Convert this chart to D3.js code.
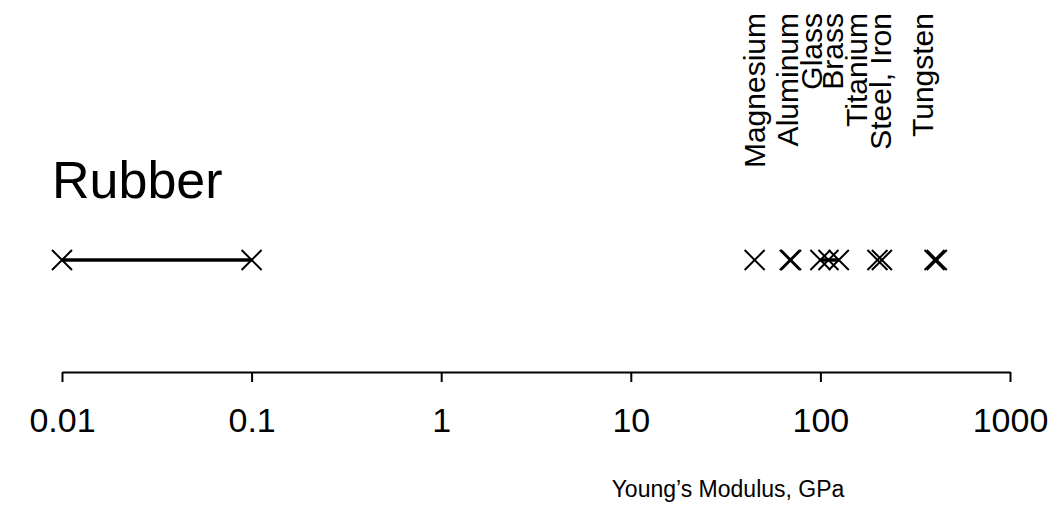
<!DOCTYPE html>
<html>
<head>
<meta charset="utf-8">
<script src="https://cdn.jsdelivr.net/npm/d3@7/dist/d3.min.js"></script>
<style>
  html, body { margin: 0; padding: 0; background: #fff; }
  svg { display: block; font-family: "Liberation Sans", Arial, Helvetica, sans-serif; }
</style>
</head>
<body>
<svg id="chart" width="1064" height="512"></svg>
<script>
// ---- data ----
const tickValues = [0.01, 0.1, 1, 10, 100, 1000];
const tickLabels = ["0.01", "0.1", "1", "10", "100", "1000"];

// single-value materials (GPa)
const pointNames  = ["Magnesium", "Aluminum", "Glass", "Titanium", "Steel", "Iron"];
const pointValues = [45, 69, 70, 110.3, 200, 211];

// range materials (GPa): [low, high]
const rangeNames = ["Rubber", "Brass", "Tungsten"];
const rangeLow   = [0.01, 100, 400];
const rangeHigh  = [0.1, 125, 411];

// rotated labels and the GPa positions they are centred on
const labelNames  = ["Magnesium", "Aluminum", "Glass", "Brass", "Titanium", "Steel, Iron", "Tungsten"];
const labelValues = [45, 67, 89, 116, 154, 206, 344];

const axisTitle = "Young\u2019s Modulus, GPa";

// ---- drawing ----
const svg = d3.select("#chart");
const x = d3.scaleLog().domain([0.01, 1000]).range([62, 1010]);
const yRow = 260, yAxis = 372;

// axis
const axis = d3.axisBottom(x)
  .tickValues(tickValues)
  .tickFormat((d, i) => tickLabels[i])
  .tickSizeInner(10)
  .tickSizeOuter(0)
  .tickPadding(26);
const gAxis = svg.append("g").attr("transform", `translate(0,${yAxis})`).call(axis);
gAxis.select(".domain").attr("stroke", "#000").attr("stroke-width", 2);
gAxis.selectAll(".tick line").attr("stroke", "#000").attr("stroke-width", 2);
gAxis.selectAll(".tick text")
  .attr("fill", "#000")
  .style("font-size", "34px")
  .style("font-family", "'Liberation Sans', Arial, sans-serif");

// axis title
svg.append("text")
  .attr("x", 728)
  .attr("y", 497)
  .attr("text-anchor", "middle")
  .style("font-size", "23px")
  .attr("fill", "#000")
  .text(axisTitle);

// X marker helper
const half = 10;
function cross(g, cx, cy, w) {
  g.append("path")
    .attr("d", `M${cx - half},${cy - half}L${cx + half},${cy + half}M${cx - half},${cy + half}L${cx + half},${cy - half}`)
    .attr("stroke", "#000")
    .attr("stroke-width", w)
    .attr("fill", "none");
}

const gMarks = svg.append("g");

// ranges: line plus markers at both ends
rangeNames.forEach((n, i) => {
  gMarks.append("line")
    .attr("x1", x(rangeLow[i])).attr("x2", x(rangeHigh[i]))
    .attr("y1", yRow).attr("y2", yRow)
    .attr("stroke", "#000")
    .attr("stroke-width", 3.5);
  cross(gMarks, x(rangeLow[i]), yRow, 2);
  cross(gMarks, x(rangeHigh[i]), yRow, 2);
});

// single values
pointValues.forEach(v => cross(gMarks, x(v), yRow, 2));

// Rubber label
svg.append("text")
  .attr("x", x(rangeLow[0]) - 10)
  .attr("y", 198)
  .style("font-size", "52px")
  .attr("fill", "#000")
  .text(rangeNames[0]);

// rotated labels
labelNames.forEach((n, i) => {
  svg.append("text")
    .attr("transform", `translate(${x(labelValues[i])},13) rotate(-90)`)
    .attr("text-anchor", "end")
    .attr("dy", "0.36em")
    .style("font-size", "30px")
    .attr("fill", "#000")
    .text(n);
});
</script>
</body>
</html>
